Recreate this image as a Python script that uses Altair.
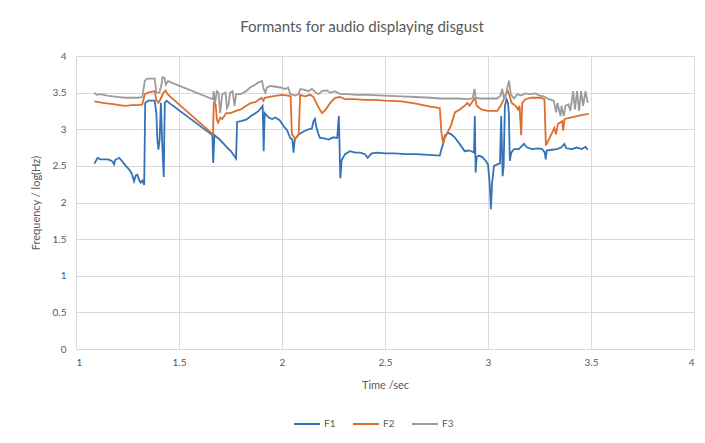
import altair as alt
import pandas as pd

f1_t = [1.089,1.097,1.105,1.12,1.14,1.153,1.165,1.177,1.185,1.19,1.21,1.225,1.242,1.258,1.27,1.282,1.29,1.298,1.306,1.314,1.322,1.331,
        1.336,1.35,1.365,1.382,1.39,1.395,1.40,1.406,1.412,1.419,1.426,1.431,1.44,1.452,
        1.662,1.666,1.672,1.697,1.721,1.737,1.753,1.769,1.777,1.782,1.80,1.826,1.85,1.871,1.887,1.906,1.911,1.916,1.935,1.952,1.968,1.99,
        2.008,2.024,2.04,2.05,2.056,2.062,2.081,2.105,2.129,2.145,2.153,2.16,2.166,2.177,2.185,2.20,2.226,2.25,2.268,2.276,2.283,2.29,
        2.306,2.33,2.355,2.38,2.403,2.416,2.435,2.46,2.50,2.548,2.60,2.65,2.71,2.766,2.774,2.782,2.79,2.806,2.822,2.838,2.862,2.887,
        2.905,2.92,2.932,2.936,2.94,2.945,2.956,2.972,2.989,3.0,3.008,3.014,3.02,3.029,3.045,3.058,3.064,3.071,3.076,3.082,3.09,3.097,
        3.101,3.106,3.113,3.126,3.15,3.174,3.19,3.215,3.24,3.263,3.276,3.28,3.285,3.311,3.335,3.355,3.371,3.38,3.408,3.43,3.456,3.473,3.484]
f1_v = [2.53,2.57,2.61,2.59,2.59,2.59,2.58,2.56,2.52,2.58,2.61,2.56,2.50,2.45,2.40,2.29,2.37,2.38,2.31,2.27,2.30,2.24,
        3.36,3.39,3.39,3.39,3.22,2.86,2.72,2.86,3.36,2.77,2.35,3.36,3.39,3.36,
        2.92,2.54,2.92,2.86,2.79,2.74,2.70,2.63,2.60,3.10,3.11,3.13,3.18,3.22,3.25,3.32,2.70,3.22,3.16,3.14,3.16,3.12,
        3.04,2.99,2.88,2.86,2.68,2.86,2.93,2.97,3.00,3.01,3.11,3.14,3.04,2.93,2.88,2.88,2.86,2.89,2.88,3.18,2.33,2.58,
        2.66,2.70,2.68,2.68,2.66,2.61,2.67,2.68,2.67,2.67,2.66,2.66,2.65,2.64,2.73,2.80,2.91,2.95,2.93,2.89,2.80,2.70,
        2.71,2.70,2.68,3.18,2.41,2.62,2.64,2.62,2.57,2.52,2.27,1.91,2.27,2.50,2.52,2.53,3.18,2.36,2.50,3.32,3.41,3.36,
        3.23,2.57,2.68,2.73,2.73,2.80,2.75,2.73,2.74,2.73,2.68,2.59,2.71,2.72,2.73,2.75,2.80,2.74,2.73,2.75,2.73,2.76,2.72]

f2_t = [1.089,1.11,1.13,1.16,1.19,1.21,1.24,1.27,1.30,1.322,1.334,1.35,1.366,1.382,1.39,1.40,1.41,1.425,1.435,1.445,1.452,
        1.665,1.669,1.678,1.684,1.69,1.70,1.71,1.729,1.75,1.777,1.80,1.826,1.85,1.871,1.90,1.91,1.916,1.952,2.0,2.03,2.042,
        2.048,2.065,2.081,2.088,2.11,2.137,2.153,2.177,2.194,2.21,2.234,2.258,2.28,2.306,2.35,2.40,2.45,2.50,2.58,2.65,2.72,
        2.766,2.774,2.782,2.79,2.806,2.82,2.839,2.863,2.887,2.90,2.91,2.92,2.938,2.945,2.968,2.997,3.045,3.061,3.077,3.09,
        3.097,3.105,3.115,3.134,3.145,3.153,3.161,3.166,3.182,3.21,3.255,3.274,3.281,3.295,3.311,3.322,3.33,3.339,3.36,3.365,
        3.372,3.40,3.432,3.465,3.489]
f2_v = [3.38,3.37,3.36,3.35,3.34,3.33,3.32,3.33,3.33,3.34,3.48,3.50,3.51,3.52,3.40,3.36,3.41,3.50,3.53,3.48,3.46,
        2.93,3.36,3.34,3.13,3.09,3.16,3.14,3.22,3.22,3.25,3.27,3.32,3.36,3.37,3.43,3.39,3.43,3.45,3.47,3.46,3.45,
        2.93,2.87,2.93,3.47,3.45,3.47,3.44,3.30,3.22,3.26,3.36,3.43,3.44,3.41,3.41,3.40,3.40,3.39,3.38,3.35,3.31,
        3.29,2.95,2.81,2.88,2.97,3.05,3.23,3.27,3.32,3.36,3.32,3.36,3.43,3.32,3.27,3.25,3.25,3.32,3.41,3.50,
        3.52,3.45,3.36,3.32,3.27,3.32,2.92,3.36,3.41,3.43,3.43,3.41,2.78,2.86,2.95,3.02,2.93,3.07,3.11,2.98,
        3.14,3.16,3.18,3.20,3.21]

f3_t = [1.089,1.10,1.12,1.15,1.18,1.21,1.242,1.27,1.30,1.322,1.334,1.345,1.365,1.382,1.39,1.405,1.415,1.42,1.43,1.436,1.447,1.46,
        1.665,1.668,1.675,1.684,1.692,1.70,1.71,1.726,1.733,1.74,1.748,1.76,1.77,1.777,1.80,1.826,1.845,1.871,1.887,1.903,1.911,
        1.919,1.927,1.944,1.97,1.992,2.016,2.03,2.04,2.065,2.08,2.089,2.105,2.129,2.145,2.161,2.177,2.194,2.218,2.234,2.258,
        2.274,2.29,2.323,2.36,2.42,2.50,2.58,2.65,2.72,2.766,2.80,2.85,2.90,2.925,2.935,2.94,2.96,3.0,3.045,3.061,3.069,3.077,
        3.087,3.097,3.103,3.11,3.126,3.142,3.16,3.182,3.205,3.231,3.25,3.271,3.295,3.319,3.331,3.337,3.352,3.357,3.368,3.376,
        3.39,3.40,3.413,3.422,3.432,3.442,3.452,3.462,3.473,3.484]
f3_v = [3.50,3.47,3.48,3.46,3.45,3.44,3.43,3.43,3.43,3.44,3.66,3.69,3.69,3.69,3.50,3.50,3.61,3.71,3.70,3.61,3.66,3.64,
        3.41,3.52,3.36,3.52,3.50,3.22,3.48,3.50,3.29,3.33,3.50,3.52,3.32,3.48,3.48,3.52,3.57,3.61,3.64,3.66,3.55,
        3.50,3.57,3.59,3.58,3.57,3.55,3.57,3.48,3.46,3.48,3.55,3.54,3.52,3.55,3.51,3.48,3.52,3.53,3.50,3.52,
        3.49,3.48,3.48,3.47,3.47,3.46,3.45,3.44,3.43,3.42,3.42,3.42,3.41,3.42,3.55,3.43,3.42,3.42,3.42,3.46,3.55,3.43,
        3.48,3.61,3.66,3.48,3.42,3.48,3.46,3.49,3.48,3.49,3.46,3.45,3.41,3.39,3.23,3.36,3.18,3.32,3.18,3.32,
        3.34,3.25,3.52,3.27,3.52,3.25,3.52,3.32,3.52,3.36]

series_names = ["F1", "F2", "F3"]
series_colors = ["#3572b8", "#de6e2c", "#9c9c9c"]
x_ticks = [1, 1.5, 2, 2.5, 3, 3.5, 4]
y_ticks = [0, 0.5, 1, 1.5, 2, 2.5, 3, 3.5, 4]

rows = []
for name, ts, vs in zip(series_names, [f1_t, f2_t, f3_t], [f1_v, f2_v, f3_v]):
    for i, (t, v) in enumerate(zip(ts, vs)):
        rows.append({"series": name, "t": t, "f": v, "order": i})
df = pd.DataFrame(rows)

FONT = "Lato"
TXT = "#595959"

chart = alt.Chart(df).mark_line(strokeWidth=1.8).encode(
    x=alt.X("t:Q",
            scale=alt.Scale(domain=[1, 4], nice=False, zero=False),
            axis=alt.Axis(values=x_ticks, title="Time /sec", format="~g",
                          labelPadding=8, titlePadding=12)),
    y=alt.Y("f:Q",
            scale=alt.Scale(domain=[0, 4], nice=False),
            axis=alt.Axis(values=y_ticks, title="Frequency / log(Hz)", format="~g",
                          labelPadding=10, titlePadding=11)),
    color=alt.Color("series:N",
                    scale=alt.Scale(domain=series_names, range=series_colors),
                    legend=alt.Legend(orient="none", legendX=217, legendY=354,
                                      direction="horizontal", title=None,
                                      symbolType="stroke", symbolSize=676,
                                      symbolStrokeWidth=2, labelOffset=3,
                                      columnPadding=13, padding=0)),
    order="order:Q",
).properties(
    width=618,
    height=293,
    autosize=alt.AutoSizeParams(type="none"),
    padding={"left": 68, "top": 48, "right": 3, "bottom": 82},
    title=alt.TitleParams("Formants for audio displaying disgust", font=FONT, fontSize=15,
                          fontWeight="normal", color=TXT, anchor="middle", frame="bounds",
                          offset=16),
).configure_view(stroke=None).configure_axis(
    grid=True, gridColor="#d9d9d9", gridWidth=1, domain=False, ticks=False,
    labelFont=FONT, labelFontSize=10, labelColor=TXT,
    titleFont=FONT, titleFontSize=11, titleFontWeight="normal", titleColor=TXT,
).configure_legend(
    labelFont=FONT, labelFontSize=10, labelColor=TXT,
)

chart.save("out.html", embed_options={"renderer": "svg", "actions": False})
